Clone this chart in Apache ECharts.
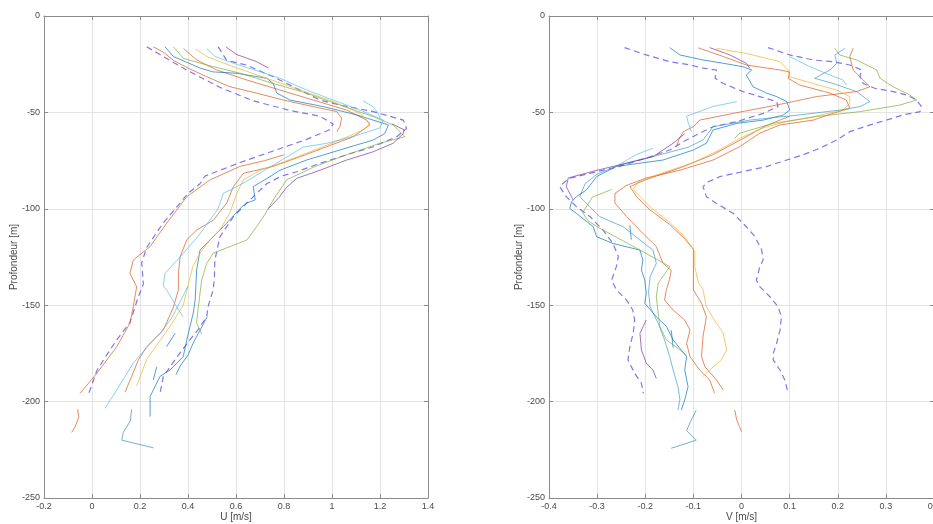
<!DOCTYPE html>
<html>
<head>
<meta charset="utf-8">
<script src="https://cdn.jsdelivr.net/npm/echarts@6/dist/echarts.min.js"></script>
<style>
html,body{margin:0;padding:0;background:#fff;}
#chart{width:933px;height:524px;}
</style>
</head>
<body>
<div id="chart"></div>
<script>
// ---------- Axis ticks ----------
var uTicks = [-0.2, 0, 0.2, 0.4, 0.6, 0.8, 1, 1.2, 1.4];
var vTicks = [-0.4, -0.3, -0.2, -0.1, 0, 0.1, 0.2, 0.3, 0.4];
var depthTicks = [-250, -200, -150, -100, -50, 0];

// ---------- U panel (left) : [U m/s, depth m] ----------
var uDashLow = [[0.228,-16],[0.283,-20],[0.394,-28],[0.533,-37],[0.672,-44],[0.825,-49],[0.95,-52],[1.005,-56],[0.99,-59],[0.894,-64],[0.755,-70],[0.617,-76],[0.471,-83],[0.45,-87],[0.40,-92],[0.367,-97],[0.296,-107.5],[0.228,-120],[0.207,-128],[0.214,-139],[0.192,-146],[0.158,-159],[0.103,-168],[0.06,-176],[0.02,-184],[-0.008,-194],[-0.015,-196]];
var uDashHigh = [[0.526,-16],[0.561,-23],[0.645,-25.5],[0.755,-31.5],[0.839,-36.7],[0.95,-43.6],[1.033,-46.2],[1.172,-49.6],[1.297,-54],[1.311,-58.3],[1.27,-62.6],[1.172,-67.8],[1.061,-72],[0.95,-76.4],[0.853,-80.8],[0.79,-83],[0.728,-87],[0.658,-95.4],[0.59,-104],[0.533,-114.5],[0.512,-126.6],[0.51,-136],[0.505,-142],[0.483,-151],[0.478,-156],[0.44,-163],[0.408,-168],[0.353,-177],[0.297,-187],[0.283,-196]];
var uOrange1 = [[0.256,-16],[0.30,-19],[0.339,-23],[0.40,-27],[0.478,-31.5],[0.575,-36.7],[0.686,-40],[0.797,-43.6],[0.922,-47],[1.02,-49.6],[1.04,-53],[1.033,-57.4],[1.02,-60]];
var uOrange2 = [[0.381,-16.8],[0.436,-22.8],[0.52,-28],[0.645,-33.2],[0.783,-38.4],[0.922,-43.6],[1.061,-48.8],[1.144,-54],[1.158,-56.5],[1.089,-62.6],[0.978,-67.8],[0.867,-73],[0.755,-78],[0.631,-81.6],[0.589,-88.5],[0.561,-97],[0.505,-106],[0.436,-111],[0.395,-116],[0.367,-125],[0.36,-133.5],[0.36,-142],[0.339,-151],[0.297,-163],[0.228,-171.5],[0.193,-178.4],[0.165,-187],[0.138,-195]];
var uOrange3 = [[0.80,-72],[0.72,-75],[0.617,-78],[0.492,-85],[0.395,-93.7],[0.353,-100.6],[0.311,-107.5],[0.242,-119.6],[0.172,-126.6],[0.158,-133.5],[0.186,-140.4],[0.172,-150.8],[0.158,-159.4],[0.103,-171.5],[0.02,-185.4],[-0.05,-195.7]];
var uOrangeFrag = [[-0.06,-204],[-0.055,-208],[-0.07,-213],[-0.085,-216]];
var uBlue1 = [[0.304,-16],[0.339,-21],[0.45,-27],[0.505,-29],[0.603,-29.7],[0.728,-32.3],[0.755,-35],[0.77,-40],[0.825,-43.6],[0.964,-47],[1.103,-51.3],[1.235,-56.5],[1.22,-61],[1.172,-64.3],[1.033,-69.5],[0.894,-74.7],[0.783,-80],[0.742,-83.3],[0.672,-88.5],[0.68,-95.4],[0.645,-97],[0.624,-99],[0.561,-107.5],[0.505,-114.5],[0.45,-121.4],[0.436,-131.7],[0.43,-147],[0.422,-154],[0.395,-168],[0.38,-176.7],[0.325,-183.6],[0.283,-187],[0.242,-197.4],[0.242,-207.8]];
var uBlue2 = [[0.48,-156],[0.45,-163],[0.42,-170],[0.40,-176],[0.37,-181],[0.35,-186]];
var uBlueFragA = [[0.311,-171.5],[0.346,-164.6]];
var uBlueFragB = [[0.255,-188.8],[0.27,-182]];
var uGreen = [[0.339,-16],[0.381,-22],[0.478,-25.4],[0.617,-29.7],[0.755,-35],[0.894,-40],[1.033,-46.2],[1.172,-52.2],[1.255,-56.5],[1.304,-62.6],[1.20,-66],[1.06,-72],[0.93,-78],[0.811,-85],[0.755,-95.4],[0.72,-103],[0.686,-109.3],[0.645,-116.2],[0.575,-119.6],[0.505,-123],[0.478,-128.3],[0.457,-137],[0.443,-151],[0.436,-159],[0.457,-165]];
var uYellow = [[0.43,-17],[0.478,-21],[0.589,-26.3],[0.728,-32.3],[0.867,-38.4],[1.005,-44.4],[1.117,-50.5],[1.158,-55.7],[1.131,-59],[1.033,-64.3],[0.894,-71.2],[0.783,-76.4],[0.70,-80],[0.631,-85],[0.603,-92],[0.575,-102],[0.533,-111],[0.492,-116],[0.45,-123],[0.42,-130],[0.40,-140],[0.38,-150],[0.33,-160],[0.297,-166],[0.228,-178],[0.186,-192]];
var uLightBlue1 = [[0.478,-17],[0.513,-21],[0.589,-24.5],[0.70,-28.9],[0.783,-32.3],[0.894,-38.4],[1.005,-43.6],[1.117,-48.8],[1.214,-54],[1.20,-58],[1.10,-62],[0.98,-66],[0.88,-68],[0.80,-74],[0.72,-80],[0.64,-86],[0.58,-90],[0.547,-92],[0.525,-100],[0.45,-113],[0.367,-125],[0.304,-133.5],[0.297,-140],[0.311,-142],[0.353,-151],[0.38,-156]];
var uLightBlue2 = [[0.40,-140],[0.36,-150],[0.33,-157],[0.283,-164.6],[0.242,-170],[0.172,-180],[0.103,-194],[0.054,-203.5]];
var uLightBlueFrag = [[1.13,-44],[1.17,-47],[1.19,-50],[1.20,-53]];
var uTealFrag = [[0.165,-204],[0.16,-210],[0.13,-216],[0.124,-220],[0.256,-224]];
var uPurpleTop = [[0.558,-16],[0.603,-20],[0.686,-23.7],[0.735,-27]];
var uPurple = [[1.25,-56],[1.30,-59],[1.297,-61],[1.255,-66],[1.172,-70.4],[1.061,-74.7],[0.95,-80],[0.853,-84.2],[0.81,-89],[0.78,-94],[0.75,-98],[0.735,-100]];

// ---------- V panel (right) : [V m/s, depth m] ----------
var vDashLow = [[-0.243,-16.4],[-0.198,-20.2],[-0.149,-23.7],[-0.107,-25.4],[-0.08,-27],[-0.052,-28],[-0.055,-32.3],[-0.038,-35],[0.003,-39.2],[0.038,-41.8],[0.073,-44.4],[0.076,-47],[0.045,-50.5],[-0.01,-54.8],[-0.059,-57.4],[-0.094,-61.7],[-0.121,-65.2],[-0.149,-69.5],[-0.19,-73],[-0.253,-78],[-0.315,-81.6],[-0.357,-84.2],[-0.367,-86],[-0.378,-88.5],[-0.364,-93.7],[-0.343,-98.9],[-0.315,-104],[-0.288,-111],[-0.267,-118],[-0.256,-124.8],[-0.26,-130],[-0.27,-137],[-0.26,-142],[-0.239,-147.3],[-0.226,-152.5],[-0.222,-157.7],[-0.225,-164.6],[-0.232,-171.5],[-0.236,-178.4],[-0.222,-185.3],[-0.208,-190.5],[-0.204,-195.7]];
var vDashHigh = [[0.055,-16.4],[0.1,-20.2],[0.149,-22.8],[0.19,-23.7],[0.225,-25.4],[0.25,-28],[0.246,-31.5],[0.253,-35],[0.277,-37.5],[0.315,-39.2],[0.343,-41],[0.364,-43.6],[0.374,-47],[0.371,-49.6],[0.336,-51.3],[0.301,-54],[0.267,-56.5],[0.225,-60],[0.198,-64.3],[0.163,-68.6],[0.128,-72],[0.094,-74.7],[0.052,-78.1],[0.003,-80.7],[-0.045,-83.3],[-0.069,-86],[-0.08,-88.5],[-0.073,-93.7],[-0.052,-97.2],[-0.017,-102.4],[0.01,-109.3],[0.028,-114.5],[0.042,-121.4],[0.045,-126.6],[0.038,-130],[0.031,-137],[0.038,-140.4],[0.059,-145.6],[0.076,-150.8],[0.083,-156],[0.08,-162.9],[0.073,-169.8],[0.066,-175],[0.066,-178.4],[0.08,-183.6],[0.09,-188.8],[0.097,-195.7]];
var vBlue1 = [[-0.149,-16.4],[-0.128,-20.2],[-0.08,-22.8],[-0.038,-24.5],[0.003,-26.3],[0.021,-28],[0.01,-30.6],[0.024,-36.7],[0.052,-40],[0.073,-41.8],[0.094,-44.4],[0.1,-48.8],[0.087,-51.3],[0.045,-54],[-0.01,-55.7],[-0.059,-59.1],[-0.073,-66],[-0.1,-69.5],[-0.163,-74.7],[-0.26,-78],[-0.301,-83.3],[-0.322,-90.2],[-0.343,-93.7],[-0.353,-96.3],[-0.357,-99.8]];
var vBlue2 = [[-0.357,-99.8],[-0.343,-102.4],[-0.308,-109.3],[-0.301,-114.5],[-0.267,-118],[-0.211,-121.4],[-0.205,-126.6],[-0.208,-131.7],[-0.201,-137],[-0.198,-143.8],[-0.201,-149],[-0.177,-156],[-0.156,-161],[-0.142,-168],[-0.114,-176.7],[-0.118,-183.6],[-0.111,-192.3],[-0.118,-199],[-0.125,-204.4]];
var vBlueFragA = [[-0.232,-108.5],[-0.229,-116]];
var vBlueFragB = [[-0.146,-163],[-0.142,-172]];
var vOrange1 = [[-0.09,-16.5],[-0.038,-21],[0.01,-25.4],[0.08,-28],[0.1,-29],[0.097,-32.3],[0.121,-35.8],[0.184,-40],[0.218,-43.6],[0.225,-47.9],[0.19,-50.5],[0.149,-54],[0.08,-56.5],[0.038,-60.8],[-0.004,-67.8],[-0.059,-74.7],[-0.128,-80],[-0.198,-84],[-0.24,-88],[-0.263,-92],[-0.263,-97],[-0.239,-104],[-0.205,-112.7],[-0.177,-119.6],[-0.163,-128.3],[-0.146,-132],[-0.15,-137],[-0.156,-142],[-0.16,-147.3],[-0.142,-152.5],[-0.118,-157.7],[-0.107,-162.9],[-0.114,-169.8],[-0.107,-176.7],[-0.087,-183.6],[-0.066,-188.8],[-0.056,-195.7]];
var vOrange2 = [[0.232,-16.8],[0.225,-21],[0.232,-28],[0.253,-33.2],[0.267,-36.7],[0.239,-39.2],[0.156,-41.8],[0.073,-46.2],[-0.017,-50.5],[-0.087,-54],[-0.1,-57.4],[-0.121,-60],[-0.13,-64],[-0.135,-68]];
var vOrange3 = [[0.10,-52],[0.05,-57],[0.0,-64],[-0.06,-72],[-0.13,-79],[-0.2,-85],[-0.232,-88.5],[-0.218,-93.7],[-0.19,-100.6],[-0.15,-108],[-0.12,-115],[-0.1,-121],[-0.1,-128.3],[-0.1,-135],[-0.1,-142],[-0.083,-149],[-0.073,-156],[-0.08,-166.3],[-0.083,-176.7],[-0.076,-182],[-0.052,-188.8],[-0.038,-194]];
var vOrangeFrag = [[-0.014,-204.4],[-0.01,-209.5],[-0.004,-213],[0,-215.6]];
var vYellow = [[-0.052,-16.8],[0.01,-19.4],[0.08,-23.7],[0.097,-28],[0.1,-31.5],[0.149,-35],[0.198,-38.4],[0.225,-41.8],[0.225,-45.3],[0.211,-48.8],[0.149,-52.2],[0.09,-55],[0.045,-58],[0.0,-63],[-0.05,-70],[-0.1,-76],[-0.16,-81],[-0.215,-86],[-0.225,-90],[-0.19,-99],[-0.15,-107],[-0.12,-114],[-0.097,-122],[-0.097,-130],[-0.09,-138],[-0.08,-142],[-0.073,-150.8],[-0.052,-159.4],[-0.038,-164.6],[-0.031,-173.2],[-0.042,-178.4],[-0.066,-183.6],[-0.08,-187]];
var vGreen = [[0.194,-16.8],[0.204,-20.2],[0.239,-22.8],[0.281,-28],[0.288,-32.3],[0.315,-36.7],[0.35,-41],[0.364,-43.6],[0.329,-46.2],[0.246,-49.6],[0.156,-52.2],[0.066,-55.7],[-0.004,-60.8],[-0.014,-63.4]];
var vGreen2 = [[-0.27,-90],[-0.31,-94],[-0.33,-102],[-0.32,-106],[-0.30,-109.3],[-0.211,-121.4],[-0.149,-130],[-0.173,-138.6],[-0.177,-145.6],[-0.17,-161],[-0.156,-168],[-0.128,-173.2],[-0.114,-175.8]];
var vTeal = [[0.215,-16.8],[0.194,-20.2],[0.198,-24.5],[0.184,-28],[0.152,-32.3],[0.19,-35],[0.239,-39.2],[0.267,-44.4],[0.246,-47],[0.204,-48.8],[0.121,-51.3],[0.017,-54],[-0.059,-57.4],[-0.08,-64.3],[-0.11,-68],[-0.17,-72],[-0.25,-77],[-0.30,-82],[-0.325,-87],[-0.336,-93.7],[-0.295,-104],[-0.246,-109.3],[-0.211,-116.2],[-0.184,-121.4],[-0.177,-128.3],[-0.19,-135.2],[-0.193,-143],[-0.19,-150.8],[-0.173,-159.4],[-0.16,-168],[-0.149,-176.7],[-0.142,-183.6],[-0.132,-192.3],[-0.128,-199],[-0.132,-204.4]];
var vLightBlueTop = [[0.1,-21],[0.142,-26.3],[0.184,-30.6],[0.211,-33.2],[0.218,-35.8]];
var vLightBlueMid = [[-0.01,-44.4],[-0.06,-47],[-0.114,-52],[-0.11,-56],[-0.104,-60]];
var vLightBlueLow = [[-0.184,-68.6],[-0.22,-72],[-0.26,-78]];
var vTealFrag = [[-0.094,-204.4],[-0.107,-211],[-0.114,-215],[-0.094,-220],[-0.146,-224.2]];
var vPurpleTop = [[-0.066,-16.4],[-0.024,-20.2],[0.01,-24.5],[0.017,-27]];
var vPurple = [[-0.118,-61],[-0.142,-66],[-0.184,-73],[-0.25,-77],[-0.30,-80],[-0.36,-84],[-0.364,-88.5],[-0.35,-95.4]];
var vPurpleLow = [[-0.198,-157.7],[-0.211,-164.6],[-0.208,-173.2],[-0.198,-180],[-0.184,-183.6],[-0.177,-188]];

// ---------- colours ----------
var C = {
  blue:'#0072BD', orange:'#D95319', yellow:'#EDB120', purple:'#7E2F8E',
  green:'#77AC30', light:'#4DBEEE', teal:'#2f8f7a', dash:'#4a3fe0'
};

function line(data, color, xi, yi, dashed){
  return {
    type:'line', data:data, xAxisIndex:xi, yAxisIndex:yi,
    showSymbol:false, symbol:'none', silent:true, animation:false,
    lineStyle: dashed ? {color:C.dash, width:1.2, type:[6,4], opacity:0.7}
                      : {color:color, width:1, opacity:0.68}
  };
}

var series = [
  line(uDashLow,null,0,0,true), line(uDashHigh,null,0,0,true),
  line(uOrange1,C.orange,0,0), line(uOrange2,C.orange,0,0), line(uOrange3,C.orange,0,0), line(uOrangeFrag,C.orange,0,0),
  line(uBlue1,C.blue,0,0), line(uBlue2,C.blue,0,0), line(uBlueFragA,C.blue,0,0), line(uBlueFragB,C.blue,0,0),
  line(uGreen,C.green,0,0), line(uYellow,C.yellow,0,0),
  line(uLightBlue1,C.light,0,0), line(uLightBlue2,C.light,0,0), line(uLightBlueFrag,C.light,0,0),
  line(uTealFrag,'#3a86b8',0,0), line(uPurpleTop,C.purple,0,0), line(uPurple,C.purple,0,0),

  line(vDashLow,null,2,2,true), line(vDashHigh,null,2,2,true),
  line(vBlue1,C.blue,2,2), line(vBlue2,C.blue,2,2), line(vBlueFragA,C.blue,2,2), line(vBlueFragB,C.blue,2,2),
  line(vOrange1,C.orange,2,2), line(vOrange2,C.orange,2,2), line(vOrange3,C.orange,2,2), line(vOrangeFrag,C.orange,2,2),
  line(vYellow,C.yellow,2,2), line(vGreen,C.green,2,2), line(vGreen2,C.green,2,2),
  line(vTeal,'#3a9ac4',2,2), line(vLightBlueTop,C.light,2,2), line(vLightBlueMid,C.light,2,2), line(vLightBlueLow,C.light,2,2),
  line(vTealFrag,'#3a86b8',2,2), line(vPurpleTop,C.purple,2,2), line(vPurple,C.purple,2,2), line(vPurpleLow,C.purple,2,2)
];

var FONT = 'Liberation Sans';
var boxLine = {show:true, onZero:false, lineStyle:{color:'#8a8a8a', width:1}};
var tick = {show:true, inside:true, length:4, lineStyle:{color:'#8a8a8a'}};
var grid = {show:true, lineStyle:{color:'#e4e4e4', width:1}};
var lbl = {color:'#4a4a4a', fontSize:9, fontFamily:FONT, margin:4};

function xMain(gi, ticks, name){
  return {type:'value', gridIndex:gi, position:'bottom', min:ticks[0], max:ticks[ticks.length-1],
    interval:Math.round((ticks[1]-ticks[0])*10)/10,
    name:name, nameLocation:'middle', nameGap:14, nameMoveOverlap:false,
    nameTextStyle:{color:'#4a4a4a', fontSize:10, fontFamily:FONT},
    axisLine:boxLine, axisTick:tick, splitLine:grid, axisLabel:lbl};
}
function xTop(gi, ticks){
  return {type:'value', gridIndex:gi, position:'top', min:ticks[0], max:ticks[ticks.length-1],
    interval:Math.round((ticks[1]-ticks[0])*10)/10,
    axisLine:boxLine, axisTick:tick, splitLine:{show:false}, axisLabel:{show:false}};
}
function yMain(gi){
  return {type:'value', gridIndex:gi, position:'left', min:depthTicks[0], max:depthTicks[depthTicks.length-1], interval:50,
    name:'Profondeur [m]', nameLocation:'middle', nameGap:25, nameRotate:90, nameMoveOverlap:false,
    nameTextStyle:{color:'#4a4a4a', fontSize:10, fontFamily:FONT},
    axisLine:boxLine, axisTick:tick, splitLine:grid, axisLabel:lbl};
}
function yRight(gi){
  return {type:'value', gridIndex:gi, position:'right', min:depthTicks[0], max:depthTicks[depthTicks.length-1], interval:50,
    axisLine:boxLine, axisTick:tick, splitLine:{show:false}, axisLabel:{show:false}};
}

var chart = echarts.init(document.getElementById('chart'), null, {renderer:'canvas'});
chart.setOption({
  backgroundColor:'#ffffff',
  animation:false,
  grid:[
    {left:44, top:16, width:384, height:482, containLabel:false, outerBoundsMode:'none'},
    {left:549, top:16, width:385, height:482, containLabel:false, outerBoundsMode:'none'}
  ],
  xAxis:[xMain(0,uTicks,'U [m/s]'), xTop(0,uTicks), xMain(1,vTicks,'V [m/s]'), xTop(1,vTicks)],
  yAxis:[yMain(0), yRight(0), yMain(1), yRight(1)],
  series:series
});
</script>
</body>
</html>
